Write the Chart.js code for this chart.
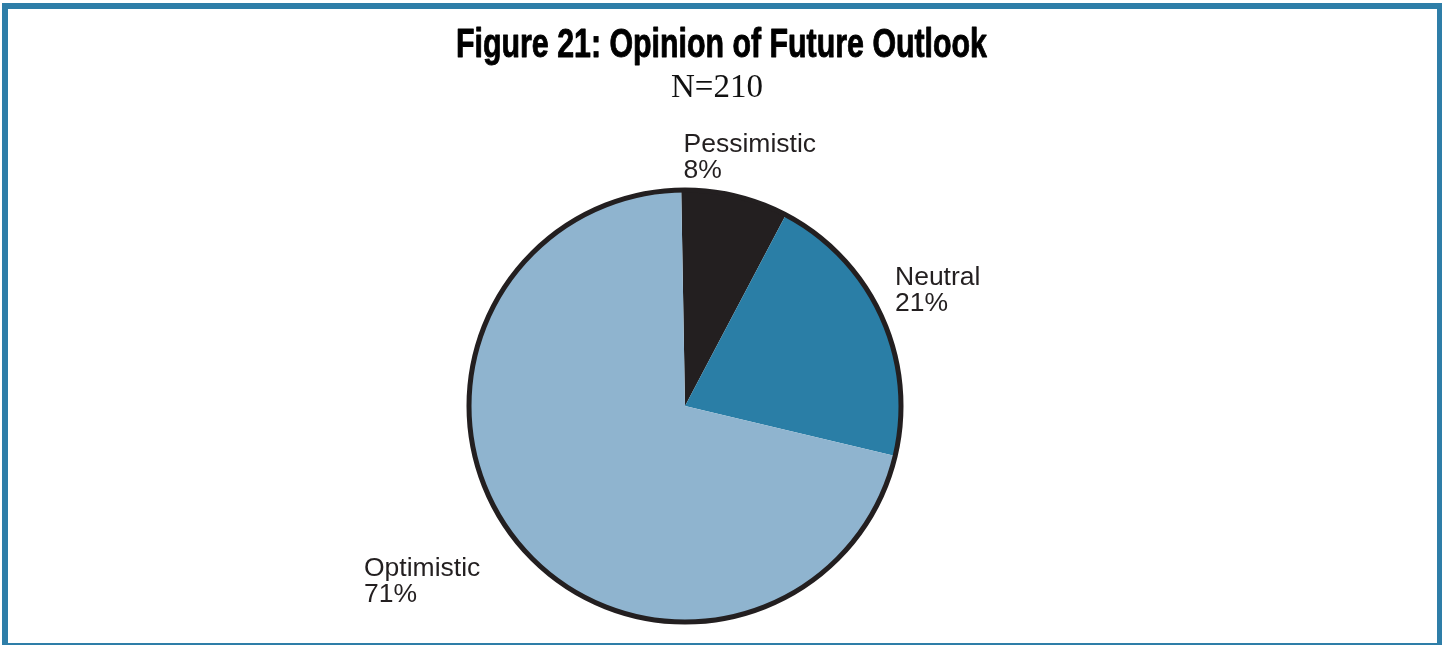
<!DOCTYPE html>
<html>
<head>
<meta charset="utf-8">
<title>Figure 21: Opinion of Future Outlook</title>
<script src="https://cdn.jsdelivr.net/npm/chart.js@4/dist/chart.umd.min.js"></script>
<style>
  html, body { margin: 0; padding: 0; background: #ffffff; }
  #wrap { position: relative; width: 1442px; height: 645px; }
</style>
</head>
<body>
<div id="wrap"><canvas id="outlook" width="1442" height="645"></canvas></div>
<script>
// Survey responses
const categories = ['Pessimistic', 'Neutral', 'Optimistic'];
const percentages = [8, 21, 71];
const sliceColors = ['#231f20', '#2a7ea6', '#8fb4cf'];
const titleText = 'Figure 21: Opinion of Future Outlook';
const subtitleText = 'N=210';

// Label placement relative to the pie centre (pixels): left x, first baseline
const labelOffsets = [
  { dx: -1.5, dy: -254 },
  { dx: 210, dy: -121 },
  { dx: -321, dy: 170 }
];

const INK = '#231f20';
const FRAME = '#2e7ea8';

// Blue frame around the figure
const framePlugin = {
  id: 'frame',
  beforeDraw(chart) {
    const ctx = chart.ctx;
    ctx.save();
    ctx.fillStyle = '#ffffff';
    ctx.fillRect(0, 0, chart.width, chart.height);
    ctx.strokeStyle = FRAME;
    ctx.lineWidth = 6;
    ctx.strokeRect(5, 6, 1435, 640);
    ctx.restore();
  }
};

// Heading: condensed bold title plus serif sample size
const headingPlugin = {
  id: 'heading',
  afterDraw(chart) {
    const ctx = chart.ctx;
    ctx.save();
    ctx.fillStyle = '#000000';
    ctx.strokeStyle = '#000000';
    ctx.lineWidth = 0.9;
    ctx.lineJoin = 'round';
    ctx.textBaseline = 'alphabetic';
    ctx.textAlign = 'center';
    ctx.font = 'bold 40px "Liberation Sans Narrow", "Liberation Sans", Arial, sans-serif';
    const w = ctx.measureText(titleText).width;
    const sx = Math.min(1.1, Math.max(0.6, 531 / w));
    ctx.translate(721.5, 57);
    ctx.scale(sx, 1);
    ctx.fillText(titleText, 0, 0);
    ctx.strokeText(titleText, 0, 0);
    ctx.setTransform(1, 0, 0, 1, 0, 0);
    ctx.font = '33px "Liberation Serif", "Times New Roman", serif';
    ctx.fillStyle = '#111111';
    ctx.fillText(subtitleText, 717, 97);
    ctx.restore();
  }
};

// Outer rim and category labels
const rimPlugin = {
  id: 'rim',
  afterDatasetsDraw(chart) {
    const arc = chart.getDatasetMeta(0).data[0];
    if (!arc) return;
    const { x, y, outerRadius } = arc.getProps(['x', 'y', 'outerRadius'], true);
    const ctx = chart.ctx;
    ctx.save();
    ctx.beginPath();
    ctx.arc(x, y, outerRadius, 0, Math.PI * 2);
    ctx.lineWidth = 5;
    ctx.strokeStyle = INK;
    ctx.stroke();

    ctx.fillStyle = INK;
    ctx.font = '26.5px "Liberation Sans", Arial, Helvetica, sans-serif';
    ctx.textAlign = 'left';
    ctx.textBaseline = 'alphabetic';
    categories.forEach((name, i) => {
      const o = labelOffsets[i];
      ctx.fillText(name, x + o.dx, y + o.dy);
      ctx.fillText(percentages[i] + '%', x + o.dx, y + o.dy + 26);
    });
    ctx.restore();
  }
};

new Chart(document.getElementById('outlook'), {
  type: 'pie',
  data: {
    labels: categories,
    datasets: [{
      data: percentages,
      backgroundColor: sliceColors,
      borderWidth: 0,
      hoverOffset: 0
    }]
  },
  options: {
    responsive: false,
    animation: false,
    rotation: -1,
    layout: {
      padding: { top: 190, bottom: 23, left: 469, right: 541 }
    },
    plugins: {
      legend: { display: false },
      title: { display: false },
      tooltip: { enabled: false }
    },
    events: []
  },
  plugins: [framePlugin, headingPlugin, rimPlugin]
});
</script>
</body>
</html>
